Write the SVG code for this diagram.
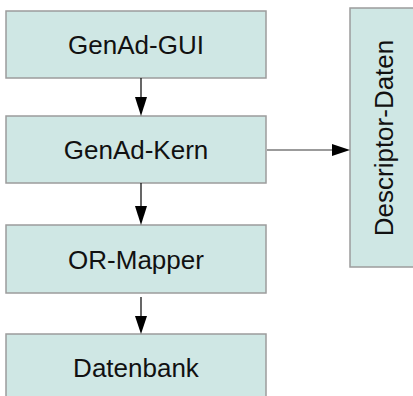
<svg xmlns="http://www.w3.org/2000/svg" width="413" height="396" viewBox="0 0 413 396">
<style>
.box{fill:#cfe7e4;stroke:#9c9c9c;stroke-width:1.5}
.lbl{font-family:"Liberation Sans",Arial,sans-serif;font-size:26px;fill:#111;text-anchor:middle}
.conn{stroke:#000;stroke-width:1.2;fill:none}
.conn2{stroke:#7a7a7a;stroke-width:1.5;fill:none}
.head{fill:#000}
</style>
<rect width="413" height="396" fill="#fff"/>
<g id="gui"><rect class="box" x="6" y="11" width="260" height="67"/><text class="lbl" x="136" y="54">GenAd-GUI</text></g>
<g id="kern"><rect class="box" x="6" y="116" width="260" height="67"/><text class="lbl" x="136" y="159">GenAd-Kern</text></g>
<g id="ormapper"><rect class="box" x="6" y="225" width="260" height="68"/><text class="lbl" x="136" y="269">OR-Mapper</text></g>
<g id="datenbank"><rect class="box" x="6" y="334" width="260" height="70"/><text class="lbl" x="136" y="377">Datenbank</text></g>
<g id="descriptor"><rect class="box" x="350" y="8" width="70" height="259"/><text class="lbl" transform="translate(393,138) rotate(-90)">Descriptor-Daten</text></g>
<g id="connectors">
<line class="conn" x1="141" y1="78" x2="141" y2="98"/><path class="head" d="M135,97 L147,97 L141,116 Z"/>
<line class="conn" x1="141" y1="183" x2="141" y2="207"/><path class="head" d="M135,206 L147,206 L141,225 Z"/>
<line class="conn" x1="141" y1="297" x2="141" y2="317"/><path class="head" d="M135,316 L147,316 L141,334 Z"/>
<line class="conn2" x1="267" y1="150" x2="333" y2="150"/><path class="head" d="M332,144 L332,156 L350,150 Z"/>
</g>
</svg>
